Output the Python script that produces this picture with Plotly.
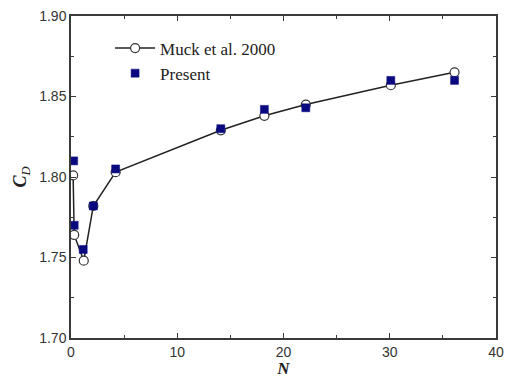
import plotly.graph_objects as go

# Drag coefficient versus interaction parameter N
muck_n = [0.2, 0.3, 1.2, 2.1, 4.2, 14.1, 18.2, 22.1, 30.1, 36.1]
muck_cd = [1.801, 1.764, 1.748, 1.782, 1.803, 1.829, 1.838, 1.845, 1.857, 1.865]

present_n = [0.25, 0.3, 1.15, 2.1, 4.2, 14.1, 18.2, 22.1, 30.1, 36.1]
present_cd = [1.810, 1.770, 1.755, 1.782, 1.805, 1.830, 1.842, 1.843, 1.860, 1.860]

x_ticks = [0, 10, 20, 30, 40]
y_ticks = [1.70, 1.75, 1.80, 1.85, 1.90]

frame = "#3a3a3a"
serif = "Liberation Serif"
sans = "Liberation Sans"

fig = go.Figure()
fig.add_trace(go.Scatter(
    x=muck_n, y=muck_cd, mode="lines+markers", name="Muck et al. 2000",
    line=dict(color="#222222", width=1.5),
    marker=dict(symbol="circle", size=9, color="white",
                line=dict(color="#333333", width=1.2)),
))
fig.add_trace(go.Scatter(
    x=present_n, y=present_cd, mode="markers", name="Present",
    marker=dict(symbol="square", size=8, color="#0a0a80",
                line=dict(color="#0a0a80", width=0.5)),
))

fig.update_layout(
    width=505, height=378,
    margin=dict(l=71, r=9, t=16, b=40, autoexpand=False),
    paper_bgcolor="white", plot_bgcolor="white",
    showlegend=True,
    legend=dict(x=0.092, y=0.955, xanchor="left", yanchor="top",
                bgcolor="rgba(0,0,0,0)", font=dict(family=serif, size=17, color="#222"),
                itemwidth=40, tracegroupgap=0),
    xaxis=dict(
        range=[0, 40], tickvals=x_ticks, ticks="inside", ticklen=5,
        tickcolor=frame, showline=True, linecolor=frame, linewidth=1.5,
        mirror="ticks", showgrid=False, zeroline=False, automargin=False,
        ticklabeloverflow="allow",
        tickfont=dict(family=sans, size=14, color="#333"),
        minor=dict(dtick=5, ticks="inside", ticklen=3, tickcolor=frame),
        title=dict(text="<i><b>N</b></i>", font=dict(family=serif, size=17, color="#222"),
                   standoff=2),
    ),
    yaxis=dict(
        range=[1.70, 1.90], tickvals=y_ticks, tickformat=".2f", ticks="inside",
        ticklen=5, tickcolor=frame, showline=True, linecolor=frame, linewidth=1.5,
        mirror="ticks", showgrid=False, zeroline=False, automargin=False,
        tickfont=dict(family=sans, size=14, color="#333"),
        minor=dict(dtick=0.025, ticks="inside", ticklen=3, tickcolor=frame),
        title=dict(text="<i><b>C</b></i><sub><i>D</i></sub>",
                   font=dict(family=serif, size=18, color="#222"), standoff=8),
    ),
)

fig.write_html("out.html")
